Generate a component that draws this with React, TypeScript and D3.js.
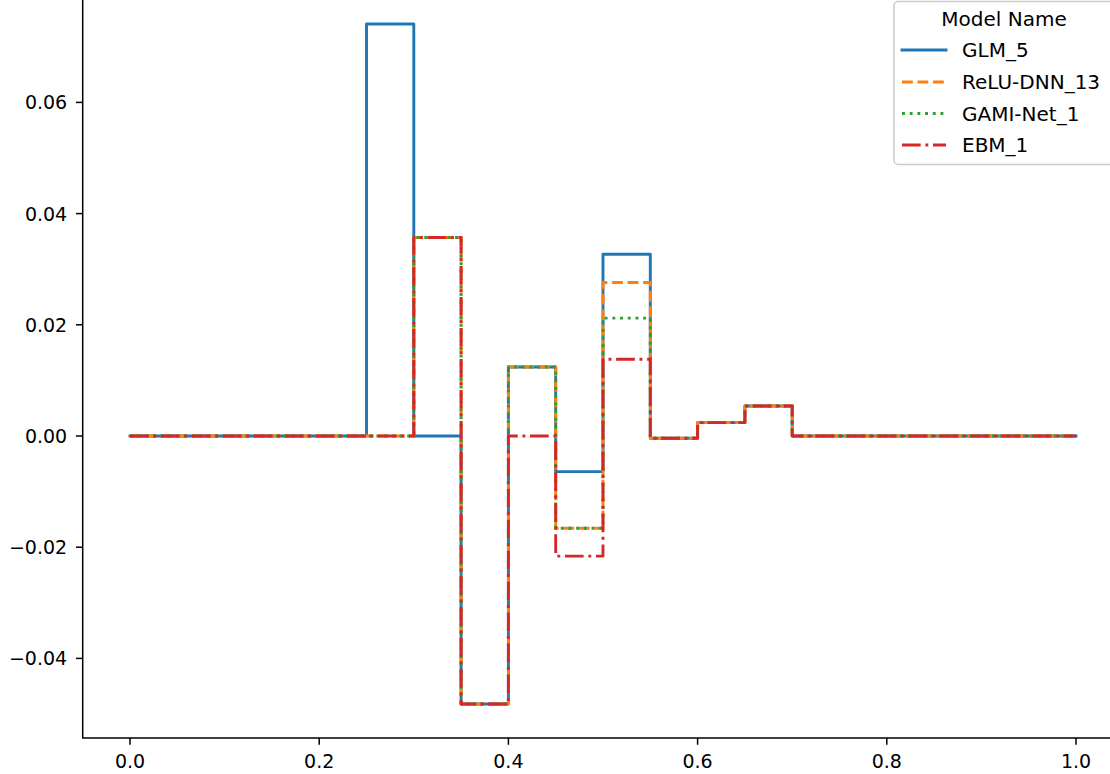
import React from "react";
import * as d3 from "d3";

const binEdges = [0, 0.25, 0.3, 0.35, 0.4, 0.45, 0.5, 0.55, 0.6, 0.65, 0.7, 1.0];
const seriesNames = ["GLM_5", "ReLU-DNN_13", "GAMI-Net_1", "EBM_1"];
const glmValues = [0, 0.0741, 0, -0.0482, 0.0124, -0.0064, 0.0327, -0.0004, 0.0024, 0.0054, 0];
const reluValues = [0, 0, 0.0357, -0.0482, 0.0124, -0.0166, 0.0276, -0.0004, 0.0024, 0.0054, 0];
const gamiValues = [0, 0, 0.0357, -0.0482, 0.0124, -0.0166, 0.0212, -0.0004, 0.0024, 0.0054, 0];
const ebmValues = [0, 0, 0.0357, -0.0482, 0, -0.0216, 0.0138, -0.0004, 0.0024, 0.0054, 0];
const xTicks = [0, 0.2, 0.4, 0.6, 0.8, 1.0];
const yTicks = [-0.04, -0.02, 0, 0.02, 0.04, 0.06, 0.08];

const colors = ["#1f77b4", "#ff7f0e", "#2ca02c", "#d62728"];
const dashes = ["none", "10.8 4.7", "2.9 4.8", "18.7 4.7 2.9 4.7"];
const LW = 2.9;
const FONT = "DejaVu Sans";
const FS = 19;
const LFS = 20;

export default function App() {
  const W = 1110, H = 774;
  const xScale = d3.scaleLinear().domain([0, 1]).range([130, 1076]);
  const yScale = d3.scaleLinear().domain([0, 0.02]).range([436, 324.8]);
  const allVals = [...glmValues, ...reluValues, ...gamiValues, ...ebmValues];
  const yMin = d3.min(allVals)!, yMax = d3.max(allVals)!;
  const m = (yMax - yMin) * 0.05;
  const yLo = yMin - m, yHi = yMax + m;
  const xLo = -0.05, xHi = 1.05;
  const left = xScale(xLo), right = xScale(xHi);
  const top = yScale(yHi), bottom = yScale(yLo);

  const series = [glmValues, reluValues, gamiValues, ebmValues];
  const line = d3
    .line<[number, number]>()
    .x((d) => xScale(d[0]))
    .y((d) => yScale(d[1]))
    .curve(d3.curveStepAfter);
  const pathFor = (vals: number[]) => {
    const pts: [number, number][] = vals.map((v, i) => [binEdges[i], v]);
    pts.push([binEdges[binEdges.length - 1], vals[vals.length - 1]]);
    return line(pts) || "";
  };
  const fmtY = (v: number) => {
    const s = Math.abs(v).toFixed(2);
    return v < -1e-9 ? "\u2212" + s : s;
  };

  const legX = 894, legY = 1.5, legW = 219, legH = 163;
  const rowY = [50, 82, 113.5, 145];

  return (
    <svg
      width={W}
      height={H}
      style={{ position: "absolute", left: 0, top: 0, background: "#fff" }}
      fontFamily={FONT}
    >
      <rect x={0} y={0} width={W} height={H} fill="#fff" />
      {series.map((vals, i) => (
        <path
          key={i}
          d={pathFor(vals)}
          fill="none"
          stroke={colors[i]}
          strokeWidth={LW}
          strokeDasharray={dashes[i]}
          strokeLinejoin="round"
          strokeLinecap={i === 0 ? "square" : "butt"}
        />
      ))}
      {/* spines */}
      <rect x={left} y={top} width={right - left} height={bottom - top} fill="none" stroke="#000" strokeWidth={1.5} />
      {/* y ticks */}
      {yTicks.map((t) => (
        <g key={t}>
          <line x1={left - 6.8} x2={left} y1={yScale(t)} y2={yScale(t)} stroke="#000" strokeWidth={1.5} />
          <text x={left - 15.5} y={yScale(t) + 7} textAnchor="end" fontSize={FS} fill="#000">
            {fmtY(t)}
          </text>
        </g>
      ))}
      {/* x ticks */}
      {xTicks.map((t) => (
        <g key={t}>
          <line x1={xScale(t)} x2={xScale(t)} y1={bottom} y2={bottom + 6.8} stroke="#000" strokeWidth={1.5} />
          <text x={xScale(t)} y={768} textAnchor="middle" fontSize={FS} fill="#000">
            {t.toFixed(1)}
          </text>
        </g>
      ))}
      {/* legend */}
      <rect x={legX} y={legY} width={legW} height={legH} rx={4} ry={4} fill="#fff" fillOpacity={0.8} stroke="#cccccc" strokeWidth={1.5} />
      <text x={1004} y={25.5} textAnchor="middle" fontSize={LFS} fill="#000">
        Model Name
      </text>
      {seriesNames.map((name, i) => (
        <g key={name}>
          <line
            x1={902}
            x2={946}
            y1={rowY[i]}
            y2={rowY[i]}
            stroke={colors[i]}
            strokeWidth={LW}
            strokeDasharray={dashes[i]}
            strokeLinecap={i === 0 ? "square" : "butt"}
          />
          <text x={962} y={rowY[i] + 7} fontSize={LFS} fill="#000">
            {name}
          </text>
        </g>
      ))}
    </svg>
  );
}
